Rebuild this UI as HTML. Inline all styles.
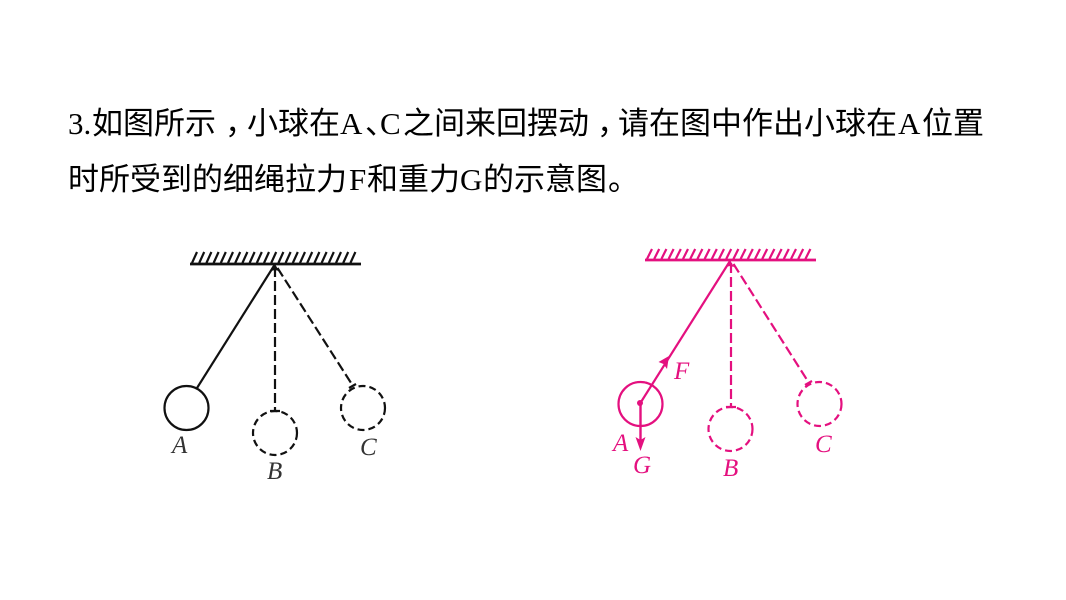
<!DOCTYPE html>
<html lang="zh">
<head>
<meta charset="utf-8">
<style>
html,body{margin:0;padding:0;background:#fff;width:1066px;height:600px;overflow:hidden}
</style>
</head>
<body>
<svg width="1066" height="600" viewBox="0 0 1066 600" xmlns="http://www.w3.org/2000/svg" style="display:block">
<g font-family="'Liberation Serif','WenQuanYi Zen Hei','Noto Sans CJK SC',serif" font-size="31" fill="#000">
<text x="68" y="134">3.</text>
<text x="92" y="134">如图所示</text>
<text x="225" y="134">，</text>
<text x="247" y="134">小球在</text>
<text x="340" y="134">A</text>
<text x="365" y="134">、</text>
<text x="380" y="134">C</text>
<text x="403" y="134">之间来回摆动</text>
<text x="597" y="134">，</text>
<text x="618" y="134">请在图中作出小球在</text>
<text x="898" y="134">A</text>
<text x="922" y="134">位置</text>
<text x="68" y="190">时所受到的细绳拉力</text>
<text x="349" y="190">F</text>
<text x="367" y="190">和重力</text>
<text x="460" y="190">G</text>
<text x="483" y="190">的示意图</text>
<text x="608" y="190">。</text>
</g>

<!-- left -->
<g fill="none" stroke="#111" stroke-width="2.200">
<path stroke-width="2.200" d="M192 263L197 252M199.200 263L204.200 252M206.400 263L211.400 252M213.600 263L218.600 252M220.800 263L225.800 252M228 263L233 252M235.200 263L240.200 252M242.400 263L247.400 252M249.600 263L254.600 252M256.800 263L261.800 252M264 263L269 252M271.200 263L276.200 252M278.400 263L283.400 252M285.600 263L290.600 252M292.800 263L297.800 252M300 263L305 252M307.200 263L312.200 252M314.400 263L319.400 252M321.600 263L326.600 252M328.800 263L333.800 252M336 263L341 252M343.200 263L348.200 252M350.400 263L355.400 252"/>
<path d="M190 264H361" stroke-width="2.800"/>
<path d="M274.500 265L197 388"/>
<circle cx="186.500" cy="408" r="22"/>
<path d="M275 267V411M277.500 268L353 386" stroke-dasharray="10 4"/>
<path d="M270 411H280M349 388L356 384"/>
<circle cx="275" cy="433" r="22" stroke-dasharray="7 4"/>
<circle cx="363" cy="408" r="22" stroke-dasharray="7 4"/>
</g>
<path d="M275 264L271 271L275 270L279 271Z" fill="#111"/>
<g font-family="'Liberation Serif',serif" font-style="italic" font-size="25" fill="#333">
<text x="172" y="453">A</text>
<text x="267" y="479">B</text>
<text x="360" y="455">C</text>
</g>

<!-- right -->
<g fill="none" stroke="#e4107f" stroke-width="2.200">
<path stroke-width="2.200" d="M647 259L652 249M654.200 259L659.200 249M661.400 259L666.400 249M668.600 259L673.600 249M675.800 259L680.800 249M683 259L688 249M690.200 259L695.200 249M697.400 259L702.400 249M704.600 259L709.600 249M711.800 259L716.800 249M719 259L724 249M726.200 259L731.200 249M733.400 259L738.400 249M740.600 259L745.600 249M747.800 259L752.800 249M755 259L760 249M762.200 259L767.200 249M769.400 259L774.400 249M776.600 259L781.600 249M783.800 259L788.800 249M791 259L796 249M798.200 259L803.200 249M805.400 259L810.400 249"/>
<path d="M645 260H816" stroke-width="2.800"/>
<path d="M730 261L641 402"/>
<circle cx="640.500" cy="404" r="22"/>
<path d="M640.500 403V440" stroke-width="2.400"/>
<path d="M731 263V407M733.500 264L809 383" stroke-dasharray="10 4"/>
<path d="M726 407H736M805 385L812 381"/>
<circle cx="730.500" cy="429" r="22" stroke-dasharray="7 4"/>
<circle cx="819.500" cy="404" r="22" stroke-dasharray="7 4"/>
</g>
<g fill="#e4107f">
<circle cx="640" cy="403" r="3"/>
<path d="M669 356L658.500 362L663.500 364L667 369Z"/>
<path d="M640.500 451L635.500 437L640.500 440L645.500 437Z"/>
<path d="M730 260L726 267L730 266L734 267Z"/>
</g>
<g font-family="'Liberation Serif',serif" font-style="italic" font-size="25" fill="#e4107f">
<text x="674" y="379">F</text>
<text x="613" y="451">A</text>
<text x="633" y="473">G</text>
<text x="723" y="476">B</text>
<text x="815" y="452">C</text>
</g>
</svg>
</body>
</html>
